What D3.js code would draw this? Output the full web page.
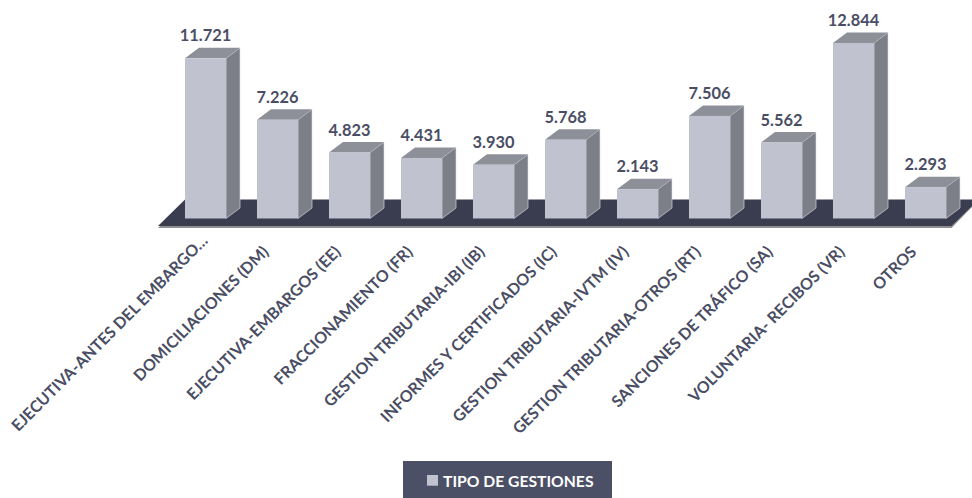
<!DOCTYPE html>
<html><head><meta charset="utf-8">
<script src="https://cdn.jsdelivr.net/npm/d3@7/dist/d3.min.js"></script>
<style>html,body{margin:0;padding:0;background:#fff;overflow:hidden}svg{display:block}text{font-family:Lato,"Open Sans",sans-serif;font-weight:700}</style>
</head><body><svg id="c" width="972" height="498"></svg>
<script>
const categories=["EJECUTIVA-ANTES DEL EMBARGO…","DOMICILIACIONES (DM)","EJECUTIVA-EMBARGOS (EE)","FRACCIONAMIENTO (FR)","GESTION TRIBUTARIA-IBI (IB)","INFORMES Y CERTIFICADOS (IC)","GESTION TRIBUTARIA-IVTM (IV)","GESTION TRIBUTARIA-OTROS (RT)","SANCIONES DE TRÁFICO (SA)","VOLUNTARIA- RECIBOS (VR)","OTROS"];
const values=[11721,7226,4823,4431,3930,5768,2143,7506,5562,12844,2293];
const seriesName="TIPO DE GESTIONES";
const svg=d3.select("#c");
const fmt=v=>d3.format(",")(v).replace(/,/g,".");
const x=d3.scaleBand().domain(categories).range([169.5,961.5]).paddingInner(.43).paddingOuter(.215);
const y=d3.scaleLinear().domain([0,12844]).range([218.5,43]);
const dx=14,dy=10.5,base=y(0);
svg.append("path").attr("d",`M158,228 L186,201 L972,201 L972,207 L951.5,228 Z`).attr("fill","#8d8e92");
svg.append("path").attr("d",`M158,226 L185,199.5 L972,199.5 L972,206 L951.5,226 Z`).attr("fill","#3a3d50");
const g=svg.append("g").selectAll("g").data(categories).join("g");
const w=x.bandwidth();
g.append("path").attr("d",(c,i)=>{const a=x(c)+w,t=y(values[i]);return `M${a},${t}L${a+dx},${t-dy}L${a+dx},${base-dy}L${a},${base}Z`}).attr("fill","#7c7e88").attr("stroke","#e4e4ea").attr("stroke-width",.6);
g.append("path").attr("d",(c,i)=>{const a=x(c),t=y(values[i]);return `M${a},${t}L${a+dx},${t-dy}L${a+w+dx},${t-dy}L${a+w},${t}Z`}).attr("fill","#8e9099");
g.append("rect").attr("x",c=>x(c)).attr("y",(c,i)=>y(values[i])).attr("width",w).attr("height",(c,i)=>base-y(values[i])).attr("fill","#c0c2d0");
g.append("text").attr("x",c=>x(c)+w/2).attr("y",(c,i)=>y(values[i])-17).attr("text-anchor","middle").attr("font-size",16.4).attr("fill","#4a4e64").text((c,i)=>fmt(values[i]));
const ax=svg.append("g").attr("transform","translate(0,226)").call(d3.axisBottom(x).tickSize(0).tickPadding(0));
ax.select(".domain").remove();
ax.selectAll("text").attr("font-size",16).attr("fill","#4a4e64").attr("text-anchor","end").attr("dy",0).attr("y",0).attr("x",(c,i)=>i===0?16:0)
 .attr("transform","translate(-8,27) rotate(-45)");
svg.append("rect").attr("x",403).attr("y",461).attr("width",209).attr("height",37).attr("fill","#4b5066");
svg.append("rect").attr("x",427).attr("y",475).attr("width",11).attr("height",10.7).attr("fill","#c0c2d0");
svg.append("text").attr("x",443).attr("y",487).attr("font-size",15.7).attr("fill","#fff").text(seriesName);
</script></body></html>
